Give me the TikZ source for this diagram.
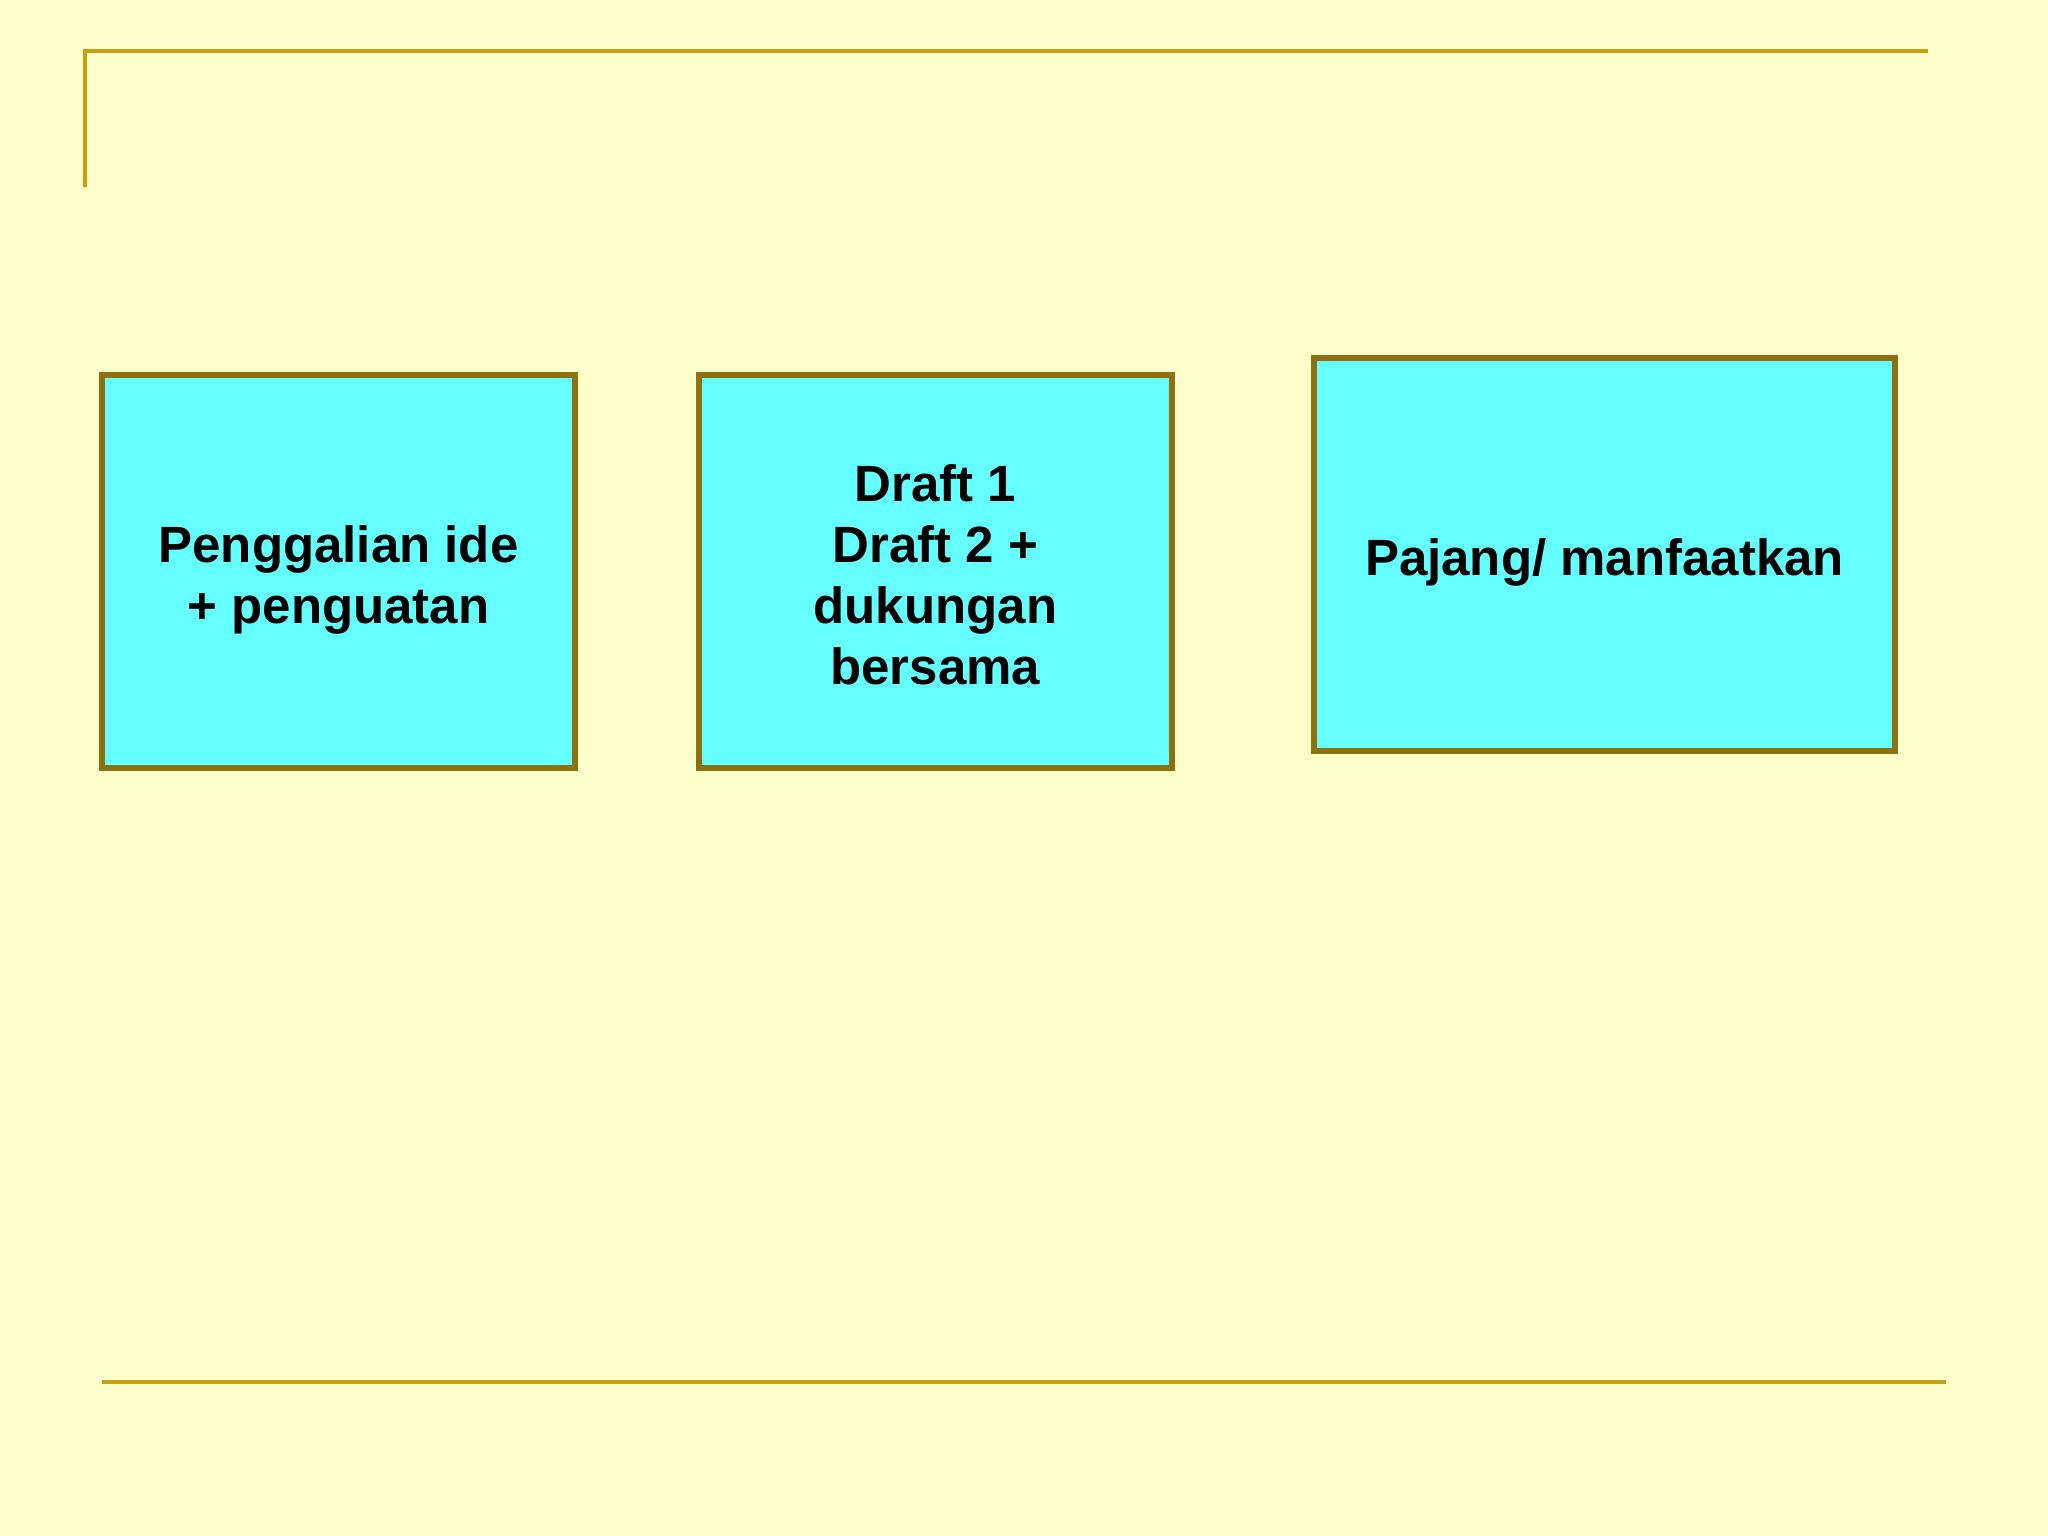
\documentclass[tikz,border=0pt]{standalone}
\usepackage{fontspec}
\setmainfont{Liberation Sans}
\definecolor{bg}{HTML}{FFFFCC}
\definecolor{rule}{HTML}{C9A010}
\definecolor{edge}{HTML}{8E7010}
\definecolor{boxfill}{HTML}{66FFFF}
\begin{document}
\begin{tikzpicture}[x=1pt,y=-1pt,
  stepbox/.style={draw=edge, line width=5.5pt, fill=boxfill, inner sep=0pt},
  steptext/.style={inner sep=0pt, align=center, font=\fontsize{51}{61}\selectfont\bfseries},
  rulel/.style={draw=rule, line width=4.2pt}]
\fill[bg] (0,0) rectangle (2048,1536);
\useasboundingbox (0,0) rectangle (2048,1536);
\coordinate (tl) at (85,51);
\coordinate (tr) at (1928,51);
\coordinate (bl) at (85,187);
\coordinate (b1) at (102,1382);
\coordinate (b2) at (1946,1382);
\draw[rulel] (bl) -- (tl) -- (tr);
\draw[rulel] (b1) -- (b2);
\node[stepbox, minimum width=473pt, minimum height=393pt] (n1) at (338.5,571.5) {};
\node[stepbox, minimum width=473pt, minimum height=393pt] (n2) at (935.3,571.5) {};
\node[stepbox, minimum width=581pt, minimum height=393pt] (n3) at (1604.5,554.5) {};
\node[steptext] (t1) at ([yshift=-8pt]n1.center) {Penggalian ide\\+ penguatan};
\node[steptext] (t2) at ([yshift=-3pt]n2.center) {Draft 1\\Draft 2 +\\dukungan\\bersama};
\node[steptext] (t3) at ([yshift=-8pt]n3.center) {Pajang/ manfaatkan};
\end{tikzpicture}
\end{document}
